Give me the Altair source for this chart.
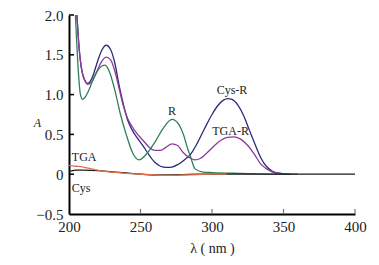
import altair as alt
import pandas as pd

# --- data ---
cysr_nm = [204, 205.5, 207, 209, 211, 213, 215, 217, 220, 223, 226, 229, 232, 235, 238, 241, 244, 248, 252, 256, 260, 264, 268, 272, 276, 280, 285, 290, 295, 300, 304, 308, 311, 314, 318, 322, 326, 330, 334, 338, 342, 346, 350, 355]
cysr_a = [2.4, 2.0, 1.6, 1.3, 1.18, 1.14, 1.17, 1.25, 1.42, 1.56, 1.62, 1.57, 1.4, 1.12, 0.88, 0.68, 0.56, 0.45, 0.35, 0.24, 0.15, 0.1, 0.085, 0.09, 0.12, 0.17, 0.25, 0.4, 0.58, 0.75, 0.86, 0.93, 0.95, 0.94, 0.87, 0.74, 0.56, 0.38, 0.21, 0.1, 0.04, 0.015, 0.005, 0.0]

tgar_nm = [204, 205.5, 207, 209, 211, 213, 216, 219, 222, 226, 229, 232, 235, 238, 241, 244, 248, 252, 256, 260, 264, 268, 272, 276, 280, 284, 288, 292, 296, 300, 305, 310, 315, 320, 325, 330, 334, 338, 342, 346, 352]
tgar_a = [2.4, 2.0, 1.6, 1.3, 1.18, 1.13, 1.16, 1.27, 1.39, 1.47, 1.44, 1.3, 1.08, 0.86, 0.7, 0.6, 0.5, 0.42, 0.34, 0.3, 0.3, 0.34, 0.38, 0.36, 0.27, 0.21, 0.18, 0.2, 0.26, 0.33, 0.41, 0.46, 0.47, 0.44, 0.36, 0.24, 0.13, 0.07, 0.03, 0.01, 0.0]

r_nm = [203.5, 205, 206.5, 208, 209.5, 211, 214, 217, 220, 223, 225, 228, 232, 236, 240, 245, 249, 254, 260, 266, 272, 277, 280, 283, 285, 288, 293, 300, 320, 350, 360]
r_a = [2.4, 1.8, 1.3, 1.0, 0.94, 0.96, 1.06, 1.2, 1.3, 1.36, 1.37, 1.3, 1.06, 0.75, 0.5, 0.25, 0.18, 0.25, 0.4, 0.58, 0.69, 0.62, 0.5, 0.32, 0.22, 0.07, 0.03, 0.02, 0.01, 0.0, 0.0]

tga_nm = [200, 205, 210, 215, 220, 225, 230, 240, 250, 260, 270, 280, 290, 300, 310]
tga_a = [0.11, 0.1, 0.09, 0.07, 0.05, 0.035, 0.025, 0.01, 0.0, -0.01, -0.015, -0.01, -0.005, 0.0, 0.0]

cys_nm = [201, 205, 210, 220, 230, 240, 250, 260, 270, 280, 290, 300, 350, 400]
cys_a = [0.04, 0.05, 0.05, 0.045, 0.03, 0.015, 0.0, -0.01, -0.01, -0.005, 0.0, 0.0, 0.0, 0.0]

series_names = ["Cys-R", "TGA-R", "R", "Cys", "TGA"]
series_colors = ["#2d2a7c", "#8e3a9c", "#2f7f58", "#1a1a1a", "#e0704a"]

x_ticks = [200, 250, 300, 350, 400]
y_ticks = [-0.5, 0, 0.5, 1.0, 1.5, 2.0]

left_text = ["TGA", "Cys"]
left_nm = [202, 202]
left_a = [0.21, -0.17]
center_text = ["R", "Cys-R", "TGA-R"]
center_nm = [272, 314, 313]
center_a = [0.79, 1.06, 0.54]

# --- build tables ---
rows = []
for name, xs, ys in [("Cys-R", cysr_nm, cysr_a), ("TGA-R", tgar_nm, tgar_a), ("R", r_nm, r_a),
                     ("Cys", cys_nm, cys_a), ("TGA", tga_nm, tga_a)]:
    for i, (x, y) in enumerate(zip(xs, ys)):
        rows.append({"series": name, "nm": x, "A": y, "order": i})
df = pd.DataFrame(rows)

left_df = pd.DataFrame({"text": left_text, "nm": left_nm, "A": left_a})
center_df = pd.DataFrame({"text": center_text, "nm": center_nm, "A": center_a})

FONT = "Liberation Serif"
W, H = 286, 199

xscale = alt.Scale(domain=[200, 400], nice=False)
yscale = alt.Scale(domain=[-0.5, 2.0], nice=False)

x_axis = alt.Axis(values=x_ticks, title="λ ( nm )", grid=False, ticks=False,
                  labelOverlap=False, labelFlush=False,
                  domainColor="black", domainWidth=2, labelFont=FONT, labelFontSize=15,
                  labelColor="#222", labelPadding=5, titleFont=FONT, titleFontSize=14,
                  titleFontWeight="normal", titleColor="#222", titlePadding=7)
y_axis = alt.Axis(values=y_ticks, title="A", grid=False, ticks=False,
                  labelOverlap=False, labelFlush=False, labelBound=False,
                  domainColor="black", domainWidth=2, labelFont=FONT, labelFontSize=15,
                  labelColor="#222", labelPadding=6,
                  labelExpr="datum.value == 0 ? '0' : replace(format(datum.value, '.1f'), '-', '−')",
                  titleFont=FONT, titleFontSize=12, titleFontStyle="italic",
                  titleFontWeight="normal", titleColor="#222", titleAngle=0,
                  titleX=-32, titleY=107, titleAlign="center", titleBaseline="middle")

lines = alt.Chart(df).mark_line(strokeWidth=1.3, clip=True, interpolate="monotone").encode(
    x=alt.X("nm:Q", scale=xscale, axis=x_axis),
    y=alt.Y("A:Q", scale=yscale, axis=y_axis),
    color=alt.Color("series:N", scale=alt.Scale(domain=series_names, range=series_colors), legend=None),
    order="order:Q",
    detail="series:N",
)

ytick_df = pd.DataFrame({"v": [t for t in y_ticks if t != -0.5]})
xtick_df = pd.DataFrame({"v": [t for t in x_ticks if t != 200]})

yticks = alt.Chart(ytick_df).mark_rule(color="black", strokeWidth=1.5).encode(
    y=alt.Y("v:Q", scale=yscale, axis=y_axis), x=alt.value(0), x2=alt.value(5))
xticks = alt.Chart(xtick_df).mark_rule(color="#777", strokeWidth=1.2).encode(
    x=alt.X("v:Q", scale=xscale, axis=x_axis), y=alt.value(H), y2=alt.value(H - 5))

texts_left = alt.Chart(left_df).mark_text(font=FONT, fontSize=12, color="#222", baseline="middle",
                                          align="left").encode(
    x=alt.X("nm:Q", scale=xscale, axis=x_axis), y=alt.Y("A:Q", scale=yscale, axis=y_axis), text="text:N")
texts_center = alt.Chart(center_df).mark_text(font=FONT, fontSize=12, color="#222", baseline="middle",
                                              align="center").encode(
    x=alt.X("nm:Q", scale=xscale, axis=x_axis), y=alt.Y("A:Q", scale=yscale, axis=y_axis), text="text:N")

chart = alt.layer(lines, yticks, xticks, texts_left, texts_center).properties(
    width=W, height=H,
    background="white",
    autosize=alt.AutoSizeParams(type="none"),
    padding={"left": 61, "top": 7, "right": 16, "bottom": 48},
).configure_view(stroke=None)

chart.save("out.html", embed_options={"renderer": "svg", "actions": False})
